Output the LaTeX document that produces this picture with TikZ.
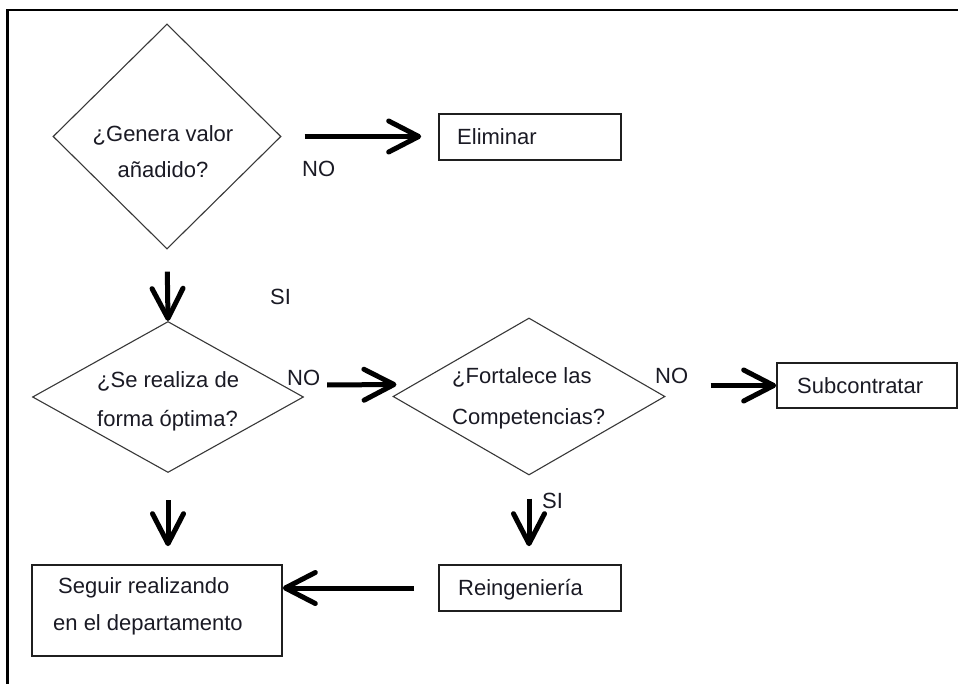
\documentclass[tikz,border=0pt]{standalone}
\usepackage{fontspec}
\setmainfont{Liberation Sans}
\usetikzlibrary{shapes.geometric,arrows.meta}
\definecolor{ink}{HTML}{1A1A24}
\begin{document}
\begin{tikzpicture}[x=1pt,y=-1pt,
  txt/.style={inner sep=0pt, text=ink, font=\fontsize{22}{38}\selectfont},
  dec/.style={shape=diamond, draw=black!78, line width=1.1pt, inner sep=0pt, fill=white},
  box/.style={shape=rectangle, draw=black!88, line width=1.6pt, inner sep=0pt, fill=white},
  arr/.style={line width=5pt, draw=black, -{Straight Barb[length=30pt,width=31pt,round]}}
]
\useasboundingbox (0,0) rectangle (958,684);
\fill[white] (0,0) rectangle (958,684);
% frame
\draw[line width=2.5pt] (7.3,684) -- (7.3,10) -- (958,10);

% shapes
\node[dec, minimum width=228pt, minimum height=225pt] (d1) at (167,136.5) {};
\node[dec, minimum width=271pt, minimum height=151pt] (d2) at (168,397) {};
\node[dec, minimum width=272pt, minimum height=157pt] (d3) at (529,396.5) {};
\node[box, minimum width=182pt, minimum height=46pt] (elim) at (530,137) {};
\node[box, minimum width=180pt, minimum height=45pt] (sub) at (867,385.5) {};
\node[box, minimum width=182pt, minimum height=46pt] (re) at (530,588) {};
\node[box, minimum width=250pt, minimum height=91pt] (seg) at (157,610.5) {};

% texts
\node[txt, anchor=base] (t1) at (163,142) {\begin{tabular}[t]{@{}c@{}}¿Genera valor\\[-2pt]añadido?\end{tabular}};
\node[txt, anchor=base west] (t2) at (97,388) {\begin{tabular}[t]{@{}l@{}}¿Se realiza de\\[1pt]forma óptima?\end{tabular}};
\node[txt, anchor=base west] (t3) at (452,384) {\begin{tabular}[t]{@{}l@{}}¿Fortalece las\\[2pt]Competencias?\end{tabular}};
\node[txt, anchor=base west] (telim) at (457,145) {Eliminar};
\node[txt, anchor=base west] (tsub) at (797,393) {Subcontratar};
\node[txt, anchor=base west] (tre) at (458,595) {Reingeniería};
\node[txt, anchor=base west] (tseg) at (53,593) {\begin{tabular}[t]{@{}l@{}}\hspace*{5pt}Seguir realizando\\[-1pt]en el departamento\end{tabular}};

% labels
\node[txt, anchor=base west] (no1) at (302,177) {NO};
\node[txt, anchor=base west] (si1) at (270,305) {SI};
\node[txt, anchor=base west] (no2) at (287,385) {NO};
\node[txt, anchor=base west] (no3) at (655,383) {NO};
\node[txt, anchor=base west] (si2) at (542,508) {SI};

% connectors
\draw[arr, shorten <=23pt, shorten >=17pt] (d1.east) -- (d1.east -| elim.west);
\draw[arr, shorten <=22pt] (d1.south) -- (d2.north);
\draw[arr] ([xshift=23pt,yshift=12pt]d2.east) -- ([xshift=4pt,yshift=12pt]d3.west);
\draw[arr] ([xshift=45pt]d3.east |- sub.west) -- (sub.west);
\draw[arr, shorten <=27pt, shorten >=18pt] (d2.south) -- (d2.south |- seg.north);
\draw[arr, shorten <=23pt, shorten >=18pt] (d3.south) -- (d3.south |- re.north);
\draw[arr, shorten <=24pt] (re.west) -- (re.west -| seg.east);
\end{tikzpicture}
\end{document}
